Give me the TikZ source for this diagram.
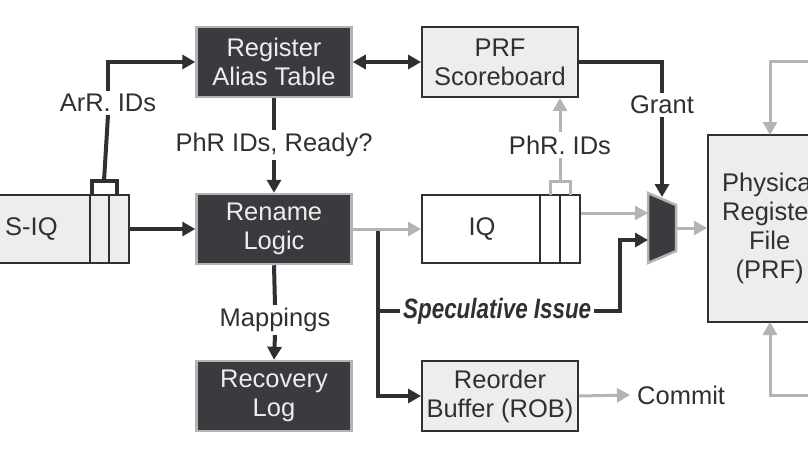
\documentclass[tikz,border=0pt]{standalone}
\usepackage{fontspec}
\setmainfont{Liberation Sans}
\usetikzlibrary{arrows.meta,positioning}
\definecolor{darkbox}{HTML}{3A3B3E}
\definecolor{lightbox}{HTML}{EDEDED}
\definecolor{wire}{HTML}{2F3033}
\definecolor{grey}{HTML}{B4B4B4}

\begin{document}
\begin{tikzpicture}[x=1pt,y=-1pt,
    font=\fontsize{25.5}{29}\selectfont,
    every node/.style={align=center,inner sep=0pt},
    dark/.style={draw=grey,line width=2.5pt,fill=darkbox,text=lightbox,minimum width=155pt,minimum height=70pt},
    light/.style={draw=wire,line width=2pt,fill=lightbox,text=wire,minimum width=156pt,minimum height=70pt},
    wirel/.style={draw=wire,line width=4pt,-{Triangle[length=13pt,width=14pt]}},
    greyl/.style={draw=grey,line width=3pt,-{Triangle[length=13pt,width=14pt]}},
    lbl/.style={text=wire,fill=white,inner sep=3pt}]

\useasboundingbox (0,0) rectangle (808,455);

% boxes
\node[dark] (rat) at (274,62) {Register\\Alias Table};
\node[light] (sb) at (500,62) {PRF\\Scoreboard};
\node[dark] (rename) at (274,229) {Rename\\Logic};
\node[dark] (recovery) at (274,396) {Recovery\\Log};
\node[light] (rob) at (500,396) {Reorder\\Buffer (ROB)};
\node[draw=wire,line width=2pt,fill=white,minimum width=158pt,minimum height=68pt] (iq) at (501,229) {};
\node[text=wire] at (482,229) {IQ};
\draw[wire,line width=2pt] (540,195) -- (540,263) (560,195) -- (560,263);
\node[draw=wire,line width=2pt,fill=lightbox,minimum width=150pt,minimum height=68pt] (siq) at (54,229) {};
\node[text=wire,anchor=west] at (5,229) {S-IQ};
\draw[wire,line width=2pt] (90,195) -- (90,263) (109,195) -- (109,263);
\node[draw=wire,line width=2pt,fill=lightbox,minimum width=130pt,minimum height=187pt] (prf) at (773,228) {};
\node[text=wire,anchor=west] at (722,228) {Physical\\Register\\File\\(PRF)};
\draw[draw=grey,line width=2.5pt,fill=darkbox] (648,193) -- (676,205) -- (676,251) -- (648,263) -- cycle;

% labels
\node[lbl] (arr) at (108,103) {ArR. IDs};
\node[lbl] (phr) at (274,145) {PhR IDs, Ready?};
\node[lbl] (map) at (275,320) {Mappings};
\node[lbl] (phr2) at (560,145) {PhR. IDs};
\node[lbl] (grant) at (662,105) {Grant};
\node[lbl,anchor=west] (commit) at (634,395) {Commit};
\node[lbl,anchor=west,font=\fontsize{28}{30}\selectfont\bfseries\itshape] (spec) at (400,311) {\scalebox{0.8}[1]{Speculative Issue}};

% black wires
\draw[wire,line width=3.5pt] (92,195) -- (92,181) -- (117,181) -- (117,195);
\draw[wire,line width=4pt] (104,181) -- (arr.south);
\draw[wirel] (arr.north) |- (rat.west);
\draw[wirel,{Triangle[length=13pt,width=14pt]}-{Triangle[length=13pt,width=14pt]}] (rat.east) -- (sb.west);
\draw[wire,line width=4pt] (rat.south) -- (phr.north);
\draw[wirel] (phr.south) -- (rename.north);
\draw[wirel] (siq.east) -- (rename.west);
\draw[wire,line width=4pt] (rename.south) -- (map.north);
\draw[wirel] (map.south) -- (recovery.north);
\draw[wirel] (378,229) |- (rob.west);
\draw[wire,line width=4pt] (378,311) -- (spec.west);
\draw[wirel] (spec.east) -- (620,311) |- (648,240);
\draw[wire,line width=4pt] (sb.east) -| (grant.north);
\draw[wirel] (grant.south) -- (662,197);

% grey wires
\draw[greyl] (rename.east) -- (iq.west);
\draw[greyl] (iq.east |- 0,213) -- (648,213);
\draw[greyl] (676,228) -- (prf.west);
\draw[draw=grey,line width=3pt] (550,195) -- (550,181) -- (570,181) -- (570,195);
\draw[draw=grey,line width=3pt] (560,181) -- (phr2.south);
\draw[greyl] (phr2.north) -- (560,98);
\draw[greyl] (rob.east) -- (630,395);
\draw[greyl] (808,61) -| (770,135);
\draw[greyl] (808,395) -| (770,322);
\end{tikzpicture}
\end{document}
